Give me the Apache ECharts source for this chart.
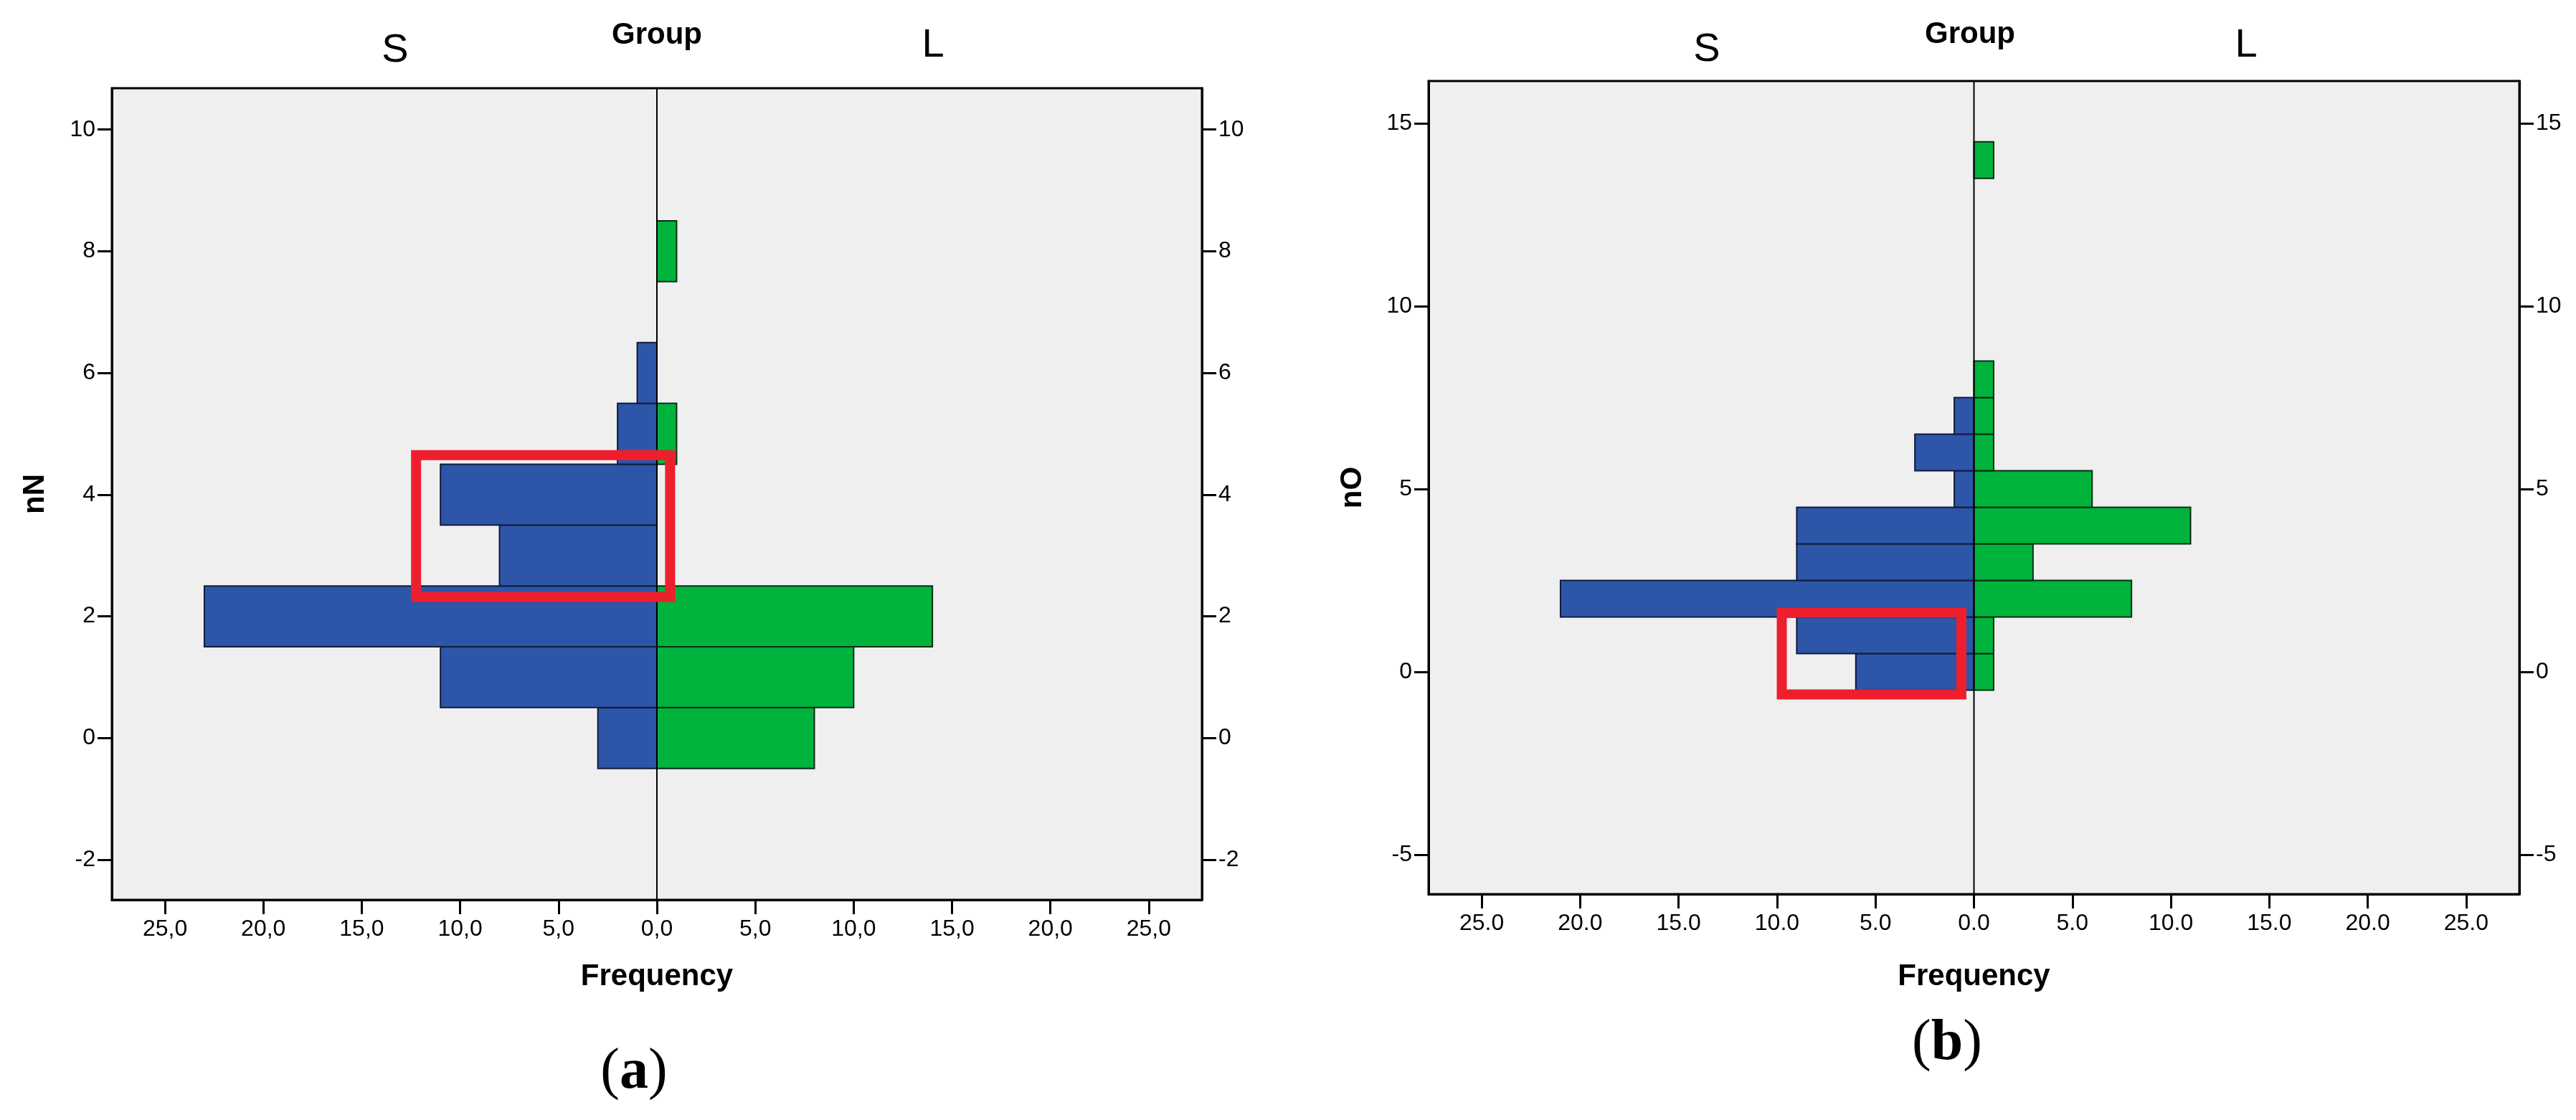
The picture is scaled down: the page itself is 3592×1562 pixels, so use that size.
<!DOCTYPE html>
<html>
<head>
<meta charset="utf-8">
<title>Group histograms nN / nO</title>
<script src="https://cdn.jsdelivr.net/npm/echarts@6/dist/echarts.min.js"></script>
<style>
  html, body { margin: 0; padding: 0; background: #fff; }
  #chart { width: 3592px; height: 1562px; }
</style>
</head>
<body>
<div id="chart"></div>
<script>
// frequency axis (mirrored, both panels)
const freqTicks = [-25, -20, -15, -10, -5, 0, 5, 10, 15, 20, 25];
const freqRange = [-27.7, 27.7];

// panel (a): nN
const nNTicks = [-2, 0, 2, 4, 6, 8, 10];
const nNRange = [-2.66, 10.68];
const nN_S_values = [0, 1, 2, 3, 4, 5, 6];
const nN_S_counts = [3, 11, 23, 8, 11, 2, 1];
const nN_L_values = [0, 1, 2, 5, 8];
const nN_L_counts = [8, 10, 14, 1, 1];
const nNHighlight = [-12.24, 2.32, 0.67, 4.65]; // x1, y1, x2, y2

// panel (b): nO
const nOTicks = [-5, 0, 5, 10, 15];
const nORange = [-6.08, 16.16];
const nO_S_values = [0, 1, 2, 3, 4, 5, 6, 7];
const nO_S_counts = [6, 9, 21, 9, 9, 1, 3, 1];
const nO_L_values = [0, 1, 2, 3, 4, 5, 6, 7, 8, 14];
const nO_L_counts = [1, 1, 8, 3, 11, 6, 1, 1, 1, 1];
const nOHighlight = [-9.76, -0.62, -0.64, 1.62];

const groups = ["S", "L"];

const SANS = '"Liberation Sans", Arial, sans-serif';
const SERIF = '"Liberation Serif", "Times New Roman", serif';
const BLUE = "#2d55a8";
const GREEN = "#00b33c";

const chart = echarts.init(document.getElementById("chart"));

function pairs(values, counts) {
  return values.map((v, i) => [v, counts[i]]);
}

// one histogram bar: value bin centred on y, width 1, from 0 to +/- count
function barRenderer(sign, fill, stroke) {
  return function (params, api) {
    const y = api.value(0);
    const n = api.value(1);
    const p1 = api.coord([0, y + 0.5]);
    const p2 = api.coord([sign * n, y - 0.5]);
    return {
      type: "rect",
      shape: {
        x: Math.min(p1[0], p2[0]),
        y: p1[1],
        width: Math.abs(p2[0] - p1[0]),
        height: p2[1] - p1[1],
      },
      style: { fill: fill, stroke: stroke, lineWidth: 2 },
    };
  };
}

function zeroLineRenderer(yRange) {
  return function (params, api) {
    const a = api.coord([0, yRange[1]]);
    const b = api.coord([0, yRange[0]]);
    return {
      type: "line",
      shape: { x1: a[0], y1: a[1], x2: b[0], y2: b[1] },
      style: { stroke: "#000", lineWidth: 2 },
    };
  };
}

function boxRenderer(params, api) {
  const a = api.coord([api.value(0), api.value(3)]);
  const b = api.coord([api.value(2), api.value(1)]);
  return {
    type: "rect",
    shape: { x: a[0], y: a[1], width: b[0] - a[0], height: b[1] - a[1] },
    style: { fill: "none", stroke: "#ee1f2d", lineWidth: 14 },
  };
}

function freqAxis(gridIndex, decimalSep, nameGap) {
  return {
    type: "value",
    gridIndex: gridIndex,
    min: freqRange[0],
    max: freqRange[1],
    splitLine: { show: false },
    axisLine: { show: true, onZero: false, lineStyle: { color: "#000", width: 3 } },
    axisTick: {
      show: true,
      customValues: freqTicks,
      length: 20,
      lineStyle: { color: "#000", width: 3 },
    },
    axisLabel: {
      customValues: freqTicks,
      margin: 25,
      color: "#000",
      fontFamily: SANS,
      fontSize: 32,
      formatter: (v) => Math.abs(v).toFixed(1).replace(".", decimalSep),
    },
    name: "Frequency",
    nameLocation: "middle",
    nameGap: nameGap,
    nameTextStyle: { color: "#000", fontFamily: SANS, fontSize: 42, fontWeight: "bold" },
  };
}

function valueAxis(gridIndex, range, ticks, position, name, nameGap) {
  const axis = {
    type: "value",
    gridIndex: gridIndex,
    position: position,
    min: range[0],
    max: range[1],
    splitLine: { show: false },
    axisLine: { show: true, onZero: false, lineStyle: { color: "#000", width: 3 } },
    axisTick: {
      show: true,
      customValues: ticks,
      length: 20,
      lineStyle: { color: "#000", width: 3 },
    },
    axisLabel: {
      customValues: ticks,
      margin: 23,
      color: "#000",
      fontFamily: SANS,
      fontSize: 32,
      formatter: (v) => String(v),
    },
  };
  if (name) {
    axis.name = name;
    axis.nameLocation = "middle";
    axis.nameGap = nameGap;
    axis.nameTextStyle = { color: "#000", fontFamily: SANS, fontSize: 42, fontWeight: "bold" };
  }
  return axis;
}

function panelSeries(xi, yi, yRange, sData, lData, box) {
  return [
    {
      name: groups[0], type: "custom", xAxisIndex: xi, yAxisIndex: yi,
      renderItem: barRenderer(-1, BLUE, "#101c3c"), data: sData, z: 2,
    },
    {
      name: groups[1], type: "custom", xAxisIndex: xi, yAxisIndex: yi,
      renderItem: barRenderer(1, GREEN, "#0c2d14"), data: lData, z: 2,
    },
    {
      type: "custom", xAxisIndex: xi, yAxisIndex: yi, silent: true,
      renderItem: zeroLineRenderer(yRange), data: [[0]], z: 3,
    },
    {
      type: "custom", xAxisIndex: xi, yAxisIndex: yi, silent: true,
      renderItem: boxRenderer, data: [box], z: 4,
    },
  ];
}

function headerText(x, y, text, size, weight) {
  return {
    type: "text", x: x, y: y, silent: true,
    style: {
      text: text, fill: "#000", font: `${weight} ${size}px ${SANS}`,
      textAlign: "center", textVerticalAlign: "middle",
    },
  };
}

function panelLabel(x, y, letter) {
  return {
    type: "text", x: x, y: y, silent: true,
    style: {
      text: `{p|(}{b|${letter}}{p|)}`,
      textAlign: "center", textVerticalAlign: "middle",
      rich: {
        p: { fontFamily: SERIF, fontSize: 80, fill: "#000", fontWeight: "normal" },
        b: { fontFamily: SERIF, fontSize: 80, fill: "#000", fontWeight: "bold" },
      },
    },
  };
}

const option = {
  animation: false,
  backgroundColor: "#fff",
  grid: [
    {
      left: 156, top: 123, width: 1520, height: 1132,
      show: true, backgroundColor: "#efefef", borderColor: "#000", borderWidth: 3,
      outerBoundsMode: "none",
    },
    {
      left: 1992, top: 113, width: 1521, height: 1134,
      show: true, backgroundColor: "#efefef", borderColor: "#000", borderWidth: 3,
      outerBoundsMode: "none",
    },
  ],
  xAxis: [freqAxis(0, ",", 86), freqAxis(1, ".", 94)],
  yAxis: [
    valueAxis(0, nNRange, nNTicks, "left", "nN", 86),
    valueAxis(0, nNRange, nNTicks, "right", null),
    valueAxis(1, nORange, nOTicks, "left", "nO", 85),
    valueAxis(1, nORange, nOTicks, "right", null),
  ],
  series: [
    ...panelSeries(0, 0, nNRange, pairs(nN_S_values, nN_S_counts), pairs(nN_L_values, nN_L_counts), nNHighlight),
    ...panelSeries(1, 2, nORange, pairs(nO_S_values, nO_S_counts), pairs(nO_L_values, nO_L_counts), nOHighlight),
  ],
  graphic: [
    headerText(551, 71, groups[0], 56, "normal"),
    headerText(916, 49, "Group", 42, "bold"),
    headerText(1301, 64, groups[1], 56, "normal"),
    headerText(2380, 70, groups[0], 56, "normal"),
    headerText(2747, 48, "Group", 42, "bold"),
    headerText(3132, 64, groups[1], 56, "normal"),
    panelLabel(884, 1496, "a"),
    panelLabel(2715, 1456, "b"),
  ],
};

chart.setOption(option);
</script>
</body>
</html>
